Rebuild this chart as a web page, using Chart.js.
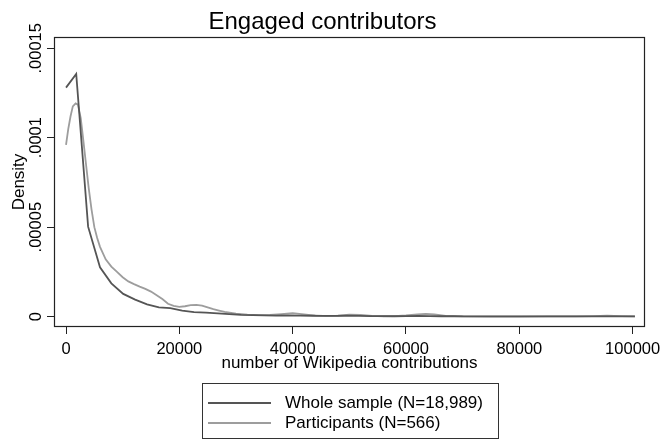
<!DOCTYPE html>
<html><head><meta charset="utf-8">
<script src="https://cdn.jsdelivr.net/npm/chart.js@4.4.1/dist/chart.umd.min.js"></script>
<style>
html,body{margin:0;padding:0;background:#fff;}
#wrap{position:relative;width:664px;height:439px;overflow:hidden;}
#legend{position:absolute;left:202px;top:383px;width:295px;height:54px;border:1px solid #333;font-family:"Liberation Sans",Arial,Helvetica,sans-serif;font-size:17px;color:#000;}
.sw{position:absolute;left:5px;width:63px;height:0;}
.lb{position:absolute;left:82px;height:20px;line-height:20px;white-space:nowrap;}
</style></head>
<body>
<div id="wrap">
<canvas id="c" width="664" height="439"></canvas>
<div id="legend"></div>
</div>
<script>
const seriesLabels = ["Whole sample (N=18,989)", "Participants (N=566)"];
const seriesColors = ["#555555", "#9d9d9d"];

const wholeX = [0,1800,3900,6000,8000,10100,12200,14300,16400,18400,20500,22600,24700,26800,28800,30900,33000,35000,37100,39200,41300,43400,45400,47500,49600,51700,53800,55800,57900,60000,62100,64200,66200,68300,70400,72500,76600,80800,85000,89100,93300,97400,100400];
const wholeY = [0.000128,0.0001356,0.0000503,0.0000276,0.0000186,0.0000127,0.0000095,0.0000068,0.0000052,0.0000047,0.0000033,0.0000025,0.0000022,0.0000018,0.0000014,0.0000010,0.0000008,0.0000007,0.0000006,0.0000007,0.0000006,0.0000005,0.0000004,0.0000004,0.0000005,0.0000004,0.0000003,0.0000003,0.0000002,0.0000003,0.0000004,0.0000003,0.0000002,0.0000002,0.0000001,0.0000001,0.0000001,0.0000001,0.0000001,0.0000001,0.0000001,0.0000001,0.0000001];

const partX = [0,400,800,1200,1700,2100,2600,3000,3500,4000,4500,5000,5500,6000,7000,8000,9000,10000,11000,12000,13000,14000,15000,16000,17000,18000,19000,20000,21000,22000,23000,24000,25000,26000,27000,28000,30000,32000,34000,36000,38000,40000,42000,44000,46000,48000,50000,52000,54000,56000,58000,60000,62000,63500,65000,67000,70000,75000,80000,85000,90000,93000,95500,98000,100400];
const partY = [0.000096,0.000105,0.000112,0.0001175,0.0001192,0.0001185,0.000111,0.0001,0.000086,0.000072,0.00006,0.00005,0.000044,0.000039,0.000032,0.000028,0.000025,0.000022,0.0000197,0.0000182,0.0000168,0.0000155,0.000014,0.000012,0.0000098,0.0000072,0.000006,0.0000055,0.0000058,0.0000064,0.0000066,0.0000062,0.0000052,0.0000042,0.0000034,0.0000026,0.0000016,0.0000011,0.0000008,0.0000009,0.0000014,0.0000019,0.0000013,0.0000006,0.0000003,0.0000005,0.0000011,0.0000009,0.0000004,0.0000002,0.0000003,0.0000007,0.0000013,0.0000015,0.0000012,0.0000004,0.0000001,0.0,0.0,0.0000001,0.0000001,0.0000003,0.0000005,0.0000003,0.0000001];

const xTickValues = [0,20000,40000,60000,80000,100000];
const xTickLabels = ["0","20000","40000","60000","80000","100000"];
const yTickValues = [0,0.00005,0.0001,0.00015];
const yTickLabels = ["0",".00005",".0001",".00015"];

const FONT = "'Liberation Sans', Arial, Helvetica, sans-serif";

const framePlugin = {
  id: 'frame',
  afterDraw(chart) {
    const {ctx, chartArea: a} = chart;
    ctx.save();
    ctx.strokeStyle = '#222';
    ctx.lineWidth = 1.2;
    ctx.strokeRect(Math.round(a.left) + 0.5, Math.round(a.top) + 0.5, Math.round(a.right - a.left) - 1, Math.round(a.bottom - a.top) - 1);
    ctx.restore();
  }
};

const chart = new Chart(document.getElementById('c'), {
  type: 'line',
  data: {
    datasets: [
      {label: seriesLabels[0], data: wholeX.map((x, i) => ({x: x, y: wholeY[i]})), borderColor: seriesColors[0], borderWidth: 1.8, pointRadius: 0, tension: 0, fill: false},
      {label: seriesLabels[1], data: partX.map((x, i) => ({x: x, y: partY[i]})), borderColor: seriesColors[1], borderWidth: 1.8, pointRadius: 0, tension: 0, fill: false}
    ]
  },
  options: {
    responsive: false,
    animation: false,
    devicePixelRatio: 1,
    layout: {padding: {left: 0, right: 19, top: 0, bottom: 62}},
    plugins: {
      legend: {display: false},
      tooltip: {enabled: false},
      title: {display: true, text: 'Engaged contributors', color: '#000',
        font: {family: FONT, size: 24, weight: 'normal', lineHeight: 1.2},
        padding: {top: 8.2, bottom: 0}}
    },
    scales: {
      x: {
        type: 'linear', min: -2120, max: 102180,
        afterBuildTicks: s => { s.ticks = xTickValues.map(v => ({value: v})); },
        afterFit: s => { s.height = 50; s.paddingLeft = 0; s.paddingRight = 0; },
        grid: {drawOnChartArea: false, drawTicks: true, tickLength: 7, color: '#222'},
        border: {display: false},
        ticks: {autoSkip: false, minRotation: 0, maxRotation: 0, padding: 6, color: '#000',
          font: {family: FONT, size: 16.5}, callback: (v, i) => xTickLabels[i]},
        title: {display: true, text: 'number of Wikipedia contributions', color: '#000',
          font: {family: FONT, size: 17}, padding: {top: 0, bottom: 3.6}}
      },
      y: {
        type: 'linear', min: -0.0000058, max: 0.0001563,
        afterBuildTicks: s => { s.ticks = yTickValues.map(v => ({value: v})); },
        afterFit: s => { s.width = 54; s.paddingTop = 0; s.paddingBottom = 0; },
        grid: {drawOnChartArea: false, drawTicks: true, tickLength: 7, color: '#222'},
        border: {display: false},
        ticks: {autoSkip: false, minRotation: 90, maxRotation: 90, crossAlign: 'center', padding: -15, color: '#000',
          font: {family: FONT, size: 16.5}, callback: (v, i) => yTickLabels[i]},
        title: {display: true, text: 'Density', color: '#000',
          font: {family: FONT, size: 17}, padding: {top: 9, bottom: 0}}
      }
    }
  },
  plugins: [framePlugin]
});

// HTML legend built from the chart's datasets
const leg = document.getElementById('legend');
chart.data.datasets.forEach((ds, i) => {
  const cy = 19.3 + i * 20;
  const sw = document.createElement('div');
  sw.className = 'sw';
  sw.style.top = (cy - 1) + 'px';
  sw.style.borderTop = '2px solid ' + ds.borderColor;
  leg.appendChild(sw);
  const lb = document.createElement('div');
  lb.className = 'lb';
  lb.style.top = (cy - 10) + 'px';
  lb.textContent = ds.label;
  leg.appendChild(lb);
});
</script>
</body></html>
